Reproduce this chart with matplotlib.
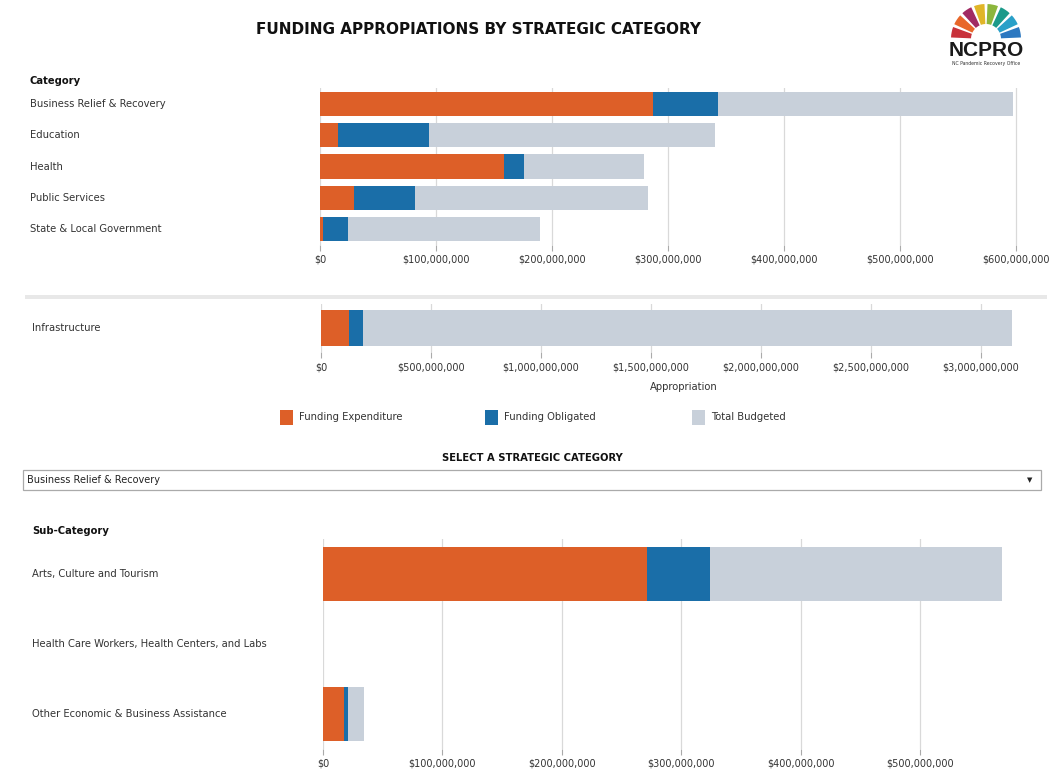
import matplotlib
matplotlib.use("Agg")
import matplotlib.pyplot as plt
import matplotlib.transforms as mtransforms
from matplotlib.patches import Rectangle, Wedge
from matplotlib.ticker import FuncFormatter, MultipleLocator

# ---------------- data ----------------
categories = ["Business Relief & Recovery", "Education", "Health",
              "Public Services", "State & Local Government"]
cat_expenditure = [287e6, 15.5e6, 159e6, 29e6, 2.6e6]
cat_obligated = [343e6, 94e6, 176e6, 82e6, 24e6]
cat_budgeted = [597e6, 340e6, 279e6, 283e6, 190e6]

infra_label = ["Infrastructure"]
infra_expenditure = [127e6]
infra_obligated = [191e6]
infra_budgeted = [3.14e9]

subcategories = ["Arts, Culture and Tourism",
                 "Health Care Workers, Health Centers, and Labs",
                 "Other Economic & Business Assistance"]
sub_expenditure = [271e6, 0, 17.6e6]
sub_obligated = [324e6, 0, 21e6]
sub_budgeted = [568e6, 0, 34e6]

legend_labels = ["Funding Expenditure", "Funding Obligated", "Total Budgeted"]
title = "FUNDING APPROPIATIONS BY STRATEGIC CATEGORY"
selected = "Business Relief & Recovery"

# ---------------- style ----------------
C_EXP = "#dd5f28"
C_OBL = "#1a6ea8"
C_TOT = "#c8d0da"
GRID = "#d9d9d9"
TXT = "#333333"
FONT = "DejaVu Sans"
plt.rcParams["font.family"] = FONT

W, H = 1059, 773
fig = plt.figure(figsize=(W / 100, H / 100), dpi=100)
fig.patch.set_facecolor("white")


def px_axes(x0, y0, x1, y1):
    """axes from pixel box (top-left origin)"""
    return fig.add_axes([x0 / W, 1 - y1 / H, (x1 - x0) / W, (y1 - y0) / H])


def fx(x):
    return x / W


def fy(y):
    return 1 - y / H


money = FuncFormatter(lambda v, p: f"${v:,.0f}")


def bar_panel(ax, labels, exp, obl, tot, xmax, step, label_x, height=0.77,
              fs=7.2, pad=3):
    n = len(labels)
    ys = list(range(n))
    ax.barh(ys, tot, height=height, color=C_TOT, zorder=2)
    ax.barh(ys, obl, height=height, color=C_OBL, zorder=3)
    ax.barh(ys, exp, height=height, color=C_EXP, zorder=4)
    ax.set_xlim(0, xmax)
    ax.set_ylim(n - 0.5, -0.5)
    ax.xaxis.set_major_locator(MultipleLocator(step))
    ax.xaxis.set_major_formatter(money)
    ax.grid(axis="x", color=GRID, lw=0.9, zorder=0)
    ax.set_axisbelow(True)
    for s in ax.spines.values():
        s.set_visible(False)
    ax.set_yticks([])
    ax.tick_params(axis="x", length=4, color="#aaaaaa", labelsize=7,
                   labelcolor=TXT, pad=pad)
    tr = mtransforms.blended_transform_factory(fig.transFigure, ax.transData)
    for y, lab in zip(ys, labels):
        ax.text(fx(label_x), y, lab, transform=tr, ha="left", va="center",
                fontsize=fs, color=TXT)


# title
fig.text(fx(479), fy(29), title, ha="center", va="center", fontsize=11,
         fontweight="bold", color="#111111")

# top panel
ax1 = px_axes(320, 88, 1022, 245)
bar_panel(ax1, categories, cat_expenditure, cat_obligated, cat_budgeted,
          605e6, 100e6, 30, pad=3)
fig.text(fx(30), fy(81), "Category", ha="left", va="center", fontsize=7.2,
         fontweight="bold", color="#111111")

# separator
fig.add_artist(Rectangle((fx(25), fy(299)), fx(1047) - fx(25), 4 / H,
                         transform=fig.transFigure, color="#e8e8e8", lw=0))

# infrastructure panel
ax2 = px_axes(321, 304, 1015, 352)
bar_panel(ax2, infra_label, infra_expenditure, infra_obligated, infra_budgeted,
          3.155e9, 500e6, 32, pad=3.5)
fig.text(fx(684), fy(387), "Appropriation", ha="center", va="center",
         fontsize=7.2, color=TXT)

# legend
for (x0, col, lab) in zip([280, 485, 692], [C_EXP, C_OBL, C_TOT], legend_labels):
    fig.add_artist(Rectangle((fx(x0), fy(425)), 13 / W, 15 / H,
                             transform=fig.transFigure, color=col, lw=0))
    fig.text(fx(x0 + 19), fy(417), lab, ha="left", va="center", fontsize=7.2,
             color=TXT)

# selector
fig.text(fx(532), fy(458), "SELECT A STRATEGIC CATEGORY", ha="center",
         va="center", fontsize=7.2, fontweight="bold", color="#111111")
fig.add_artist(Rectangle((fx(23), fy(490)), fx(1041) - fx(23), 20 / H,
                         transform=fig.transFigure, facecolor="white",
                         edgecolor="#aaaaaa", lw=0.9))
fig.text(fx(27), fy(480), selected, ha="left", va="center", fontsize=7,
         color="#222222")
fig.text(fx(1030), fy(480), "▼", ha="center", va="center", fontsize=5,
         color="#222222")

# sub-category panel
ax3 = px_axes(323, 539, 1010, 749)
bar_panel(ax3, subcategories, sub_expenditure, sub_obligated, sub_budgeted,
          575e6, 100e6, 32, pad=2.5)
fig.text(fx(32), fy(531), "Sub-Category", ha="left", va="center",
         fontsize=7.2, fontweight="bold", color="#111111")

# logo
axl = px_axes(940, 0, 1034, 72)
axl.set_xlim(940, 1034)
axl.set_ylim(72, 0)
axl.axis("off")
logo_colors = ["#c8323b", "#e8672a", "#a12a63", "#e0b528",
               "#8cb63c", "#1b9a8a", "#2aa0c8", "#2c78c0"]
n = len(logo_colors)
cx, cy, r_out, r_in = 986, 39, 35, 15
for i, c in enumerate(logo_colors):
    a1 = 180 - i * 180 / n - 2.5
    a0 = 180 - (i + 1) * 180 / n + 2.5
    # y axis inverted -> negate angles
    axl.add_patch(Wedge((cx, cy), r_out, -a1, -a0, width=r_out - r_in,
                        color=c, lw=0))
axl.set_aspect("equal")
axl.text(986, 51, "NCPRO", ha="center", va="center", fontsize=15,
         fontweight="bold", family="Liberation Sans", color="#1a1a1a")
axl.text(986, 64, "NC Pandemic Recovery Office", ha="center", va="center",
         fontsize=3.3, color="#333333")

fig.savefig("out.png", dpi=100, facecolor="white")
